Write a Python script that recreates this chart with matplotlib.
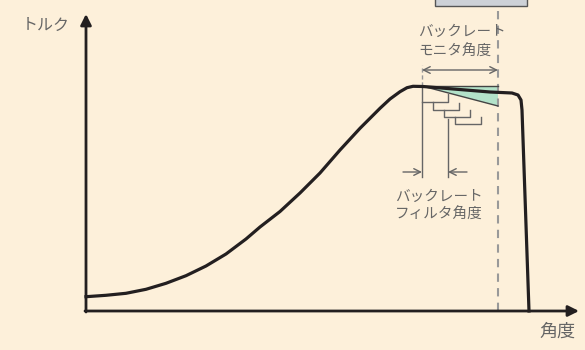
import matplotlib.pyplot as plt
from matplotlib.patches import Polygon, Rectangle

plt.rcParams['font.family'] = ['Noto Sans CJK JP', 'DejaVu Sans']

bg = '#fdf0da'
grey = '#666666'
dark = '#231f20'

# torque curve (angle, torque), schematic units
angle = [0, 20, 40, 60, 80, 100, 120, 140, 160, 174, 194, 214, 234, 254, 274, 294,
         304, 314, 321, 327, 337, 404, 426, 432, 435, 436, 443]
torque = [14.3, 15.7, 17.7, 21.7, 27.7, 35.3, 45, 57, 72, 84, 99.5, 118, 138, 161,
          182.7, 202.7, 212, 219.3, 223.3, 224.7, 224.5, 219, 218, 216, 211, 201, 0]

peak_x = 336
peak_y = 225
monitor_x = 412
monitor_low = 205

# staircase brackets under the slope: (left x, top y, right x, bottom y, right top y)
brackets = [
    (336, 209, 362, 209, 217),
    (347, 209, 373, 201, 208),
    (358, 201, 384, 194, 201),
    (369, 194, 395, 187, 194),
]

fig = plt.figure(figsize=(5.85, 3.5), dpi=100, facecolor=bg)
ax = fig.add_axes([0, 0, 1, 1])
ax.set_facecolor(bg)
ax.set_xlim(-86, 499)
ax.set_ylim(-39, 311)
ax.axis('off')

# teal monitor region
ax.add_patch(Polygon([(peak_x, peak_y), (monitor_x, peak_y), (monitor_x, monitor_low)],
                     closed=True, facecolor='#b3e2c9', edgecolor='none', zorder=1))
ax.plot([peak_x, monitor_x], [peak_y, peak_y], color='#444444', lw=1, zorder=2)
ax.plot([peak_x, monitor_x], [peak_y, monitor_low], color='#444444', lw=1, zorder=2)

# dashed monitor limit
ax.plot([monitor_x, monitor_x], [0, 311], color='#999999', lw=1.5, ls=(0, (4, 3)), zorder=1)
ax.plot([peak_x, peak_x], [peak_y, 246], color='#999999', lw=1, ls=(0, (3, 2)), zorder=1)

# box at top
ax.add_patch(Rectangle((349, 305), 92, 20, facecolor='#cdd1d7', edgecolor='#555555',
                       lw=1, zorder=3, clip_on=False))

# staircase
for lx, ty, rx, by, ry in brackets:
    ax.plot([lx, lx, rx, rx], [ty, by, by, ry], color=grey, lw=1, zorder=2)
ax.plot([peak_x, peak_x], [peak_y, 134], color=grey, lw=1, zorder=2)
ax.plot([362, 362], [192, 134], color=grey, lw=1, zorder=2)

# filter angle arrows
arr = dict(arrowstyle='->', color=grey, lw=1, shrinkA=0, shrinkB=0, mutation_scale=12)
ax.annotate('', xy=(peak_x, 139), xytext=(317, 139), arrowprops=arr)
ax.annotate('', xy=(362, 139), xytext=(381, 139), arrowprops=arr)

# monitor angle double arrow
ax.annotate('', xy=(monitor_x, 241), xytext=(peak_x, 241),
            arrowprops=dict(arrowstyle='<->', color=grey, lw=1, shrinkA=0, shrinkB=0,
                            mutation_scale=12))

# curve
ax.plot(angle, torque, color=dark, lw=2.3, solid_joinstyle='round', zorder=4)

# axes
axarr = dict(arrowstyle='-|>', color=dark, lw=2, shrinkA=0, shrinkB=0, mutation_scale=16)
ax.annotate('', xy=(0, 297), xytext=(0, -1), arrowprops=axarr, zorder=5)
ax.annotate('', xy=(493, 0), xytext=(-1, 0), arrowprops=axarr, zorder=5)

# labels
ax.text(-64, 286, 'トルク', fontsize=11.5, color=grey, va='center', ha='left')
ax.text(453, -21, '角度', fontsize=13, color=grey, va='center', ha='left')
ax.text(332, 279, 'バックレート', fontsize=10.5, color=grey, va='center', ha='left')
ax.text(332, 259, 'モニタ角度', fontsize=10.5, color=grey, va='center', ha='left')
ax.text(309, 114, 'バックレート', fontsize=10.5, color=grey, va='center', ha='left')
ax.text(309, 96, 'フィルタ角度', fontsize=10.5, color=grey, va='center', ha='left')

fig.savefig('out.png', dpi=100, facecolor=bg)
